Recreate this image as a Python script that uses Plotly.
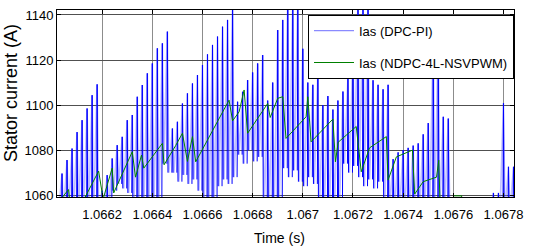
import plotly.graph_objects as go

# ---------------- data ----------------
T0 = 1.066  # s, time offset for the microsecond lists below

# DPC-PI stator current: one high-frequency ripple spike per sample time
spike_time_us = [40, 60, 80, 100, 120, 140, 160, 180, 200, 220,
                 240, 260, 280, 300, 320, 340, 360, 380, 400, 420,
                 440, 460, 480, 500, 520, 540, 560, 580, 600, 620,
                 640, 660, 680, 700, 720, 740, 760, 780, 800, 820,
                 840, 860, 880, 900, 920, 940, 960, 980, 1000, 1020,
                 1040, 1060, 1080, 1100, 1120, 1140, 1160, 1180, 1200, 1220,
                 1240, 1260, 1280, 1300, 1320, 1340, 1360, 1380, 1400, 1420,
                 1440, 1460, 1480, 1500, 1520, 1540, 1560, 1580, 1600, 1620,
                 1640, 1660, 1680, 1700, 1720, 1740, 1760, 1780, 1800, 1820,
                 1840]
blue_peak = [1069.6, 1075.6, 1080.7, 1088, 1093.3, 1098.5, 1104.4, 1109.2, 1062, 1068.9,
             1076.3, 1082.2, 1085.9, 1093.3, 1095.6, 1103.7, 1108.9, 1114.1, 1118.5, 1125.2,
             1127.4, 1132.6, 1089.6, 1092.6, 1100.7, 1105.2, 1109.6, 1113.3, 1117.8, 1122.5,
             1126.7, 1130.4, 1134.8, 1137.8, 1146, 1101.5, 1105.9, 1111.1, 1114.5, 1118.5,
             1122.2, 1102, 1110, 1133.3, 1137.8, 1146, 1146, 1146, 1125, 1110,
             1109, 1114, 1100, 1104, 1098, 1102, 1106, 1112, 1125, 1146,
             1146, 1146, 1111, 1109, 1107, 1109, 1076, 1079, 1080, 1081,
             1082, 1083, 1087, 1092, 1130, 1130, 1094.8, 1094, 1057, 1057,
             1057, 1057, 1057, 1057, 1057, 1057, 1061, 1061, 1100.8, 1072.6,
             1072.6]
blue_trough = [1052, 1052, 1052, 1052, 1052, 1052, 1052, 1052, 1052, 1052,
               1062, 1065, 1063, 1061, 1054, 1054, 1054, 1054, 1054, 1054,
               1074, 1070, 1070, 1066, 1069, 1065, 1067, 1062, 1054, 1054,
               1054, 1064, 1067, 1065, 1068, 1078, 1074, 1080, 1075, 1077,
               1054, 1054, 1054, 1054, 1072, 1068, 1071, 1066, 1064, 1068,
               1065, 1054, 1054, 1054, 1054, 1054, 1074, 1070, 1073, 1068,
               1064, 1067, 1063, 1066, 1054, 1054, 1054, 1054, 1054, 1054,
               1054, 1054, 1054, 1054, 1054, 1054, 1054, 1054, 1052, 1052,
               1052, 1052, 1052, 1052, 1052, 1052, 1052, 1052, 1052, 1052,
               1052]

# NDPC-4L-NSVPWM stator current (vertices of the sawtooth trace)
green_time_us = [20, 37, 66, 73, 113, 186, 200, 203, 240, 246,
                 320, 333, 357, 366, 440, 447, 493, 520, 540, 560,
                 573, 706, 720, 746, 766, 780, 860, 870, 900, 920,
                 933, 1013, 1020, 1033, 1120, 1130, 1141, 1213, 1233, 1266,
                 1333, 1340, 1373, 1437, 1446, 1480, 1533, 1542, 1549, 1593,
                 1601, 1633, 1641, 1850]
green_val = [1057, 1058.5, 1062.5, 1055, 1055, 1070.7, 1061, 1058, 1072, 1061,
             1079.3, 1068, 1077.8, 1072, 1083, 1073.5, 1082, 1087.5, 1075, 1086,
             1074.8, 1102.2, 1093, 1097, 1106.7, 1087.5, 1100.7, 1094.5, 1103, 1103.7,
             1085.2, 1094.8, 1103.7, 1083.7, 1093.8, 1074.8, 1083.5, 1090.5, 1070.4, 1081,
             1086, 1066.7, 1077, 1080, 1060.5, 1066, 1068, 1075.5, 1050, 1052,
             1059.7, 1059.7, 1052, 1052]

x_tick_vals = [1.0662, 1.0664, 1.0666, 1.0668, 1.067, 1.0672, 1.0674, 1.0676, 1.0678]
x_tick_text = ["1.0662", "1.0664", "1.0666", "1.0668", "1.067", "1.0672", "1.0674", "1.0676", "1.0678"]
y_tick_vals = [1060, 1080, 1100, 1120, 1140]
y_tick_text = ["1060", "1080", "1100", "1120", "1140"]

series_names = ["Ias (DPC-PI)", "Ias (NDPC-4L-NSVPWM)"]
x_title = "Time (s)"
y_title = "Stator current (A)"

# ---------------- build traces ----------------
us = 1e-6
# light halo: slow rise to each peak
lite_x, lite_y = [T0 + 20 * us], [1052]
# dark core: sharp spike at each peak (separate segments)
dark_x, dark_y = [], []
prev = 1052
for t_us, pk, tr in zip(spike_time_us, blue_peak, blue_trough):
    t = T0 + t_us * us
    lite_x += [t - 14 * us, t]
    lite_y += [prev, pk]
    dark_x += [t - 2 * us, t, t + 2.5 * us, None]
    dark_y += [prev, pk, tr, None]
    prev = tr
lite_x.append(T0 + (spike_time_us[-1] + 6) * us)
lite_y.append(prev)

green_x = [T0 + v * us for v in green_time_us]

FONT = "Liberation Sans, Arial, sans-serif"

fig = go.Figure()
fig.add_trace(go.Scatter(x=lite_x, y=lite_y, mode="lines", name=series_names[0],
                         line=dict(color="rgba(100,100,255,0.42)", width=1.6),
                         legendgroup="a", showlegend=False, hoverinfo="skip"))
fig.add_trace(go.Scatter(x=dark_x, y=dark_y, mode="lines", name=series_names[0],
                         line=dict(color="#0000ff", width=1),
                         legendgroup="a", showlegend=False, connectgaps=False))
fig.add_trace(go.Scatter(x=green_x, y=green_val, mode="lines", name=series_names[1],
                         line=dict(color="#008000", width=1),
                         legendgroup="b", showlegend=False))
# legend entries
fig.add_trace(go.Scatter(x=[None], y=[None], mode="lines", name=series_names[0],
                         line=dict(color="#8a8aff", width=1.2), legendgroup="a"))
fig.add_trace(go.Scatter(x=[None], y=[None], mode="lines", name=series_names[1],
                         line=dict(color="#008000", width=1.2), legendgroup="b"))

fig.update_layout(
    width=533, height=249,
    margin=dict(l=57, r=19, t=10, b=52, autoexpand=False),
    paper_bgcolor="white", plot_bgcolor="white",
    font=dict(family=FONT, size=13, color="black"),
    showlegend=True,
    legend=dict(x=1, xanchor="right", y=0.975, yanchor="top",
                bgcolor="white", bordercolor="black", borderwidth=1,
                font=dict(family=FONT, size=13, color="black"),
                tracegroupgap=12, itemwidth=40,
                traceorder="grouped"),
    annotations=[
        dict(text=y_title, xref="paper", yref="paper", x=0, y=0.556,
             xanchor="center", yanchor="middle", xshift=-46, textangle=-90,
             showarrow=False, font=dict(family=FONT, size=18, color="black")),
        dict(text=x_title, xref="paper", yref="paper", x=0.487, y=0,
             xanchor="center", yanchor="middle", yshift=-41,
             showarrow=False, font=dict(family=FONT, size=14, color="black")),
    ],
)
fig.update_xaxes(
    range=[1.06602, 1.067842], automargin=False,
    tickmode="array", tickvals=x_tick_vals, ticktext=x_tick_text,
    ticks="inside", ticklen=4, tickcolor="black", tickwidth=1,
    showline=True, linecolor="black", linewidth=1, mirror="allticks",
    showgrid=True, gridcolor="#8c8c8c", gridwidth=1,
    zeroline=False,
    tickfont=dict(family=FONT, size=13, color="black"),
    ticklabelstandoff=5,
)
fig.update_yaxes(
    range=[1059.2, 1142.2], automargin=False,
    tickmode="array", tickvals=y_tick_vals, ticktext=y_tick_text,
    ticks="inside", ticklen=4, tickcolor="black", tickwidth=1,
    showline=True, linecolor="black", linewidth=1, mirror="allticks",
    showgrid=True, gridcolor="#505050", gridwidth=1.4,
    zeroline=False,
    tickfont=dict(family=FONT, size=13, color="black"),
)

fig.write_html("out.html", config={"displayModeBar": False},
               post_script="document.body.style.margin='0px';")
